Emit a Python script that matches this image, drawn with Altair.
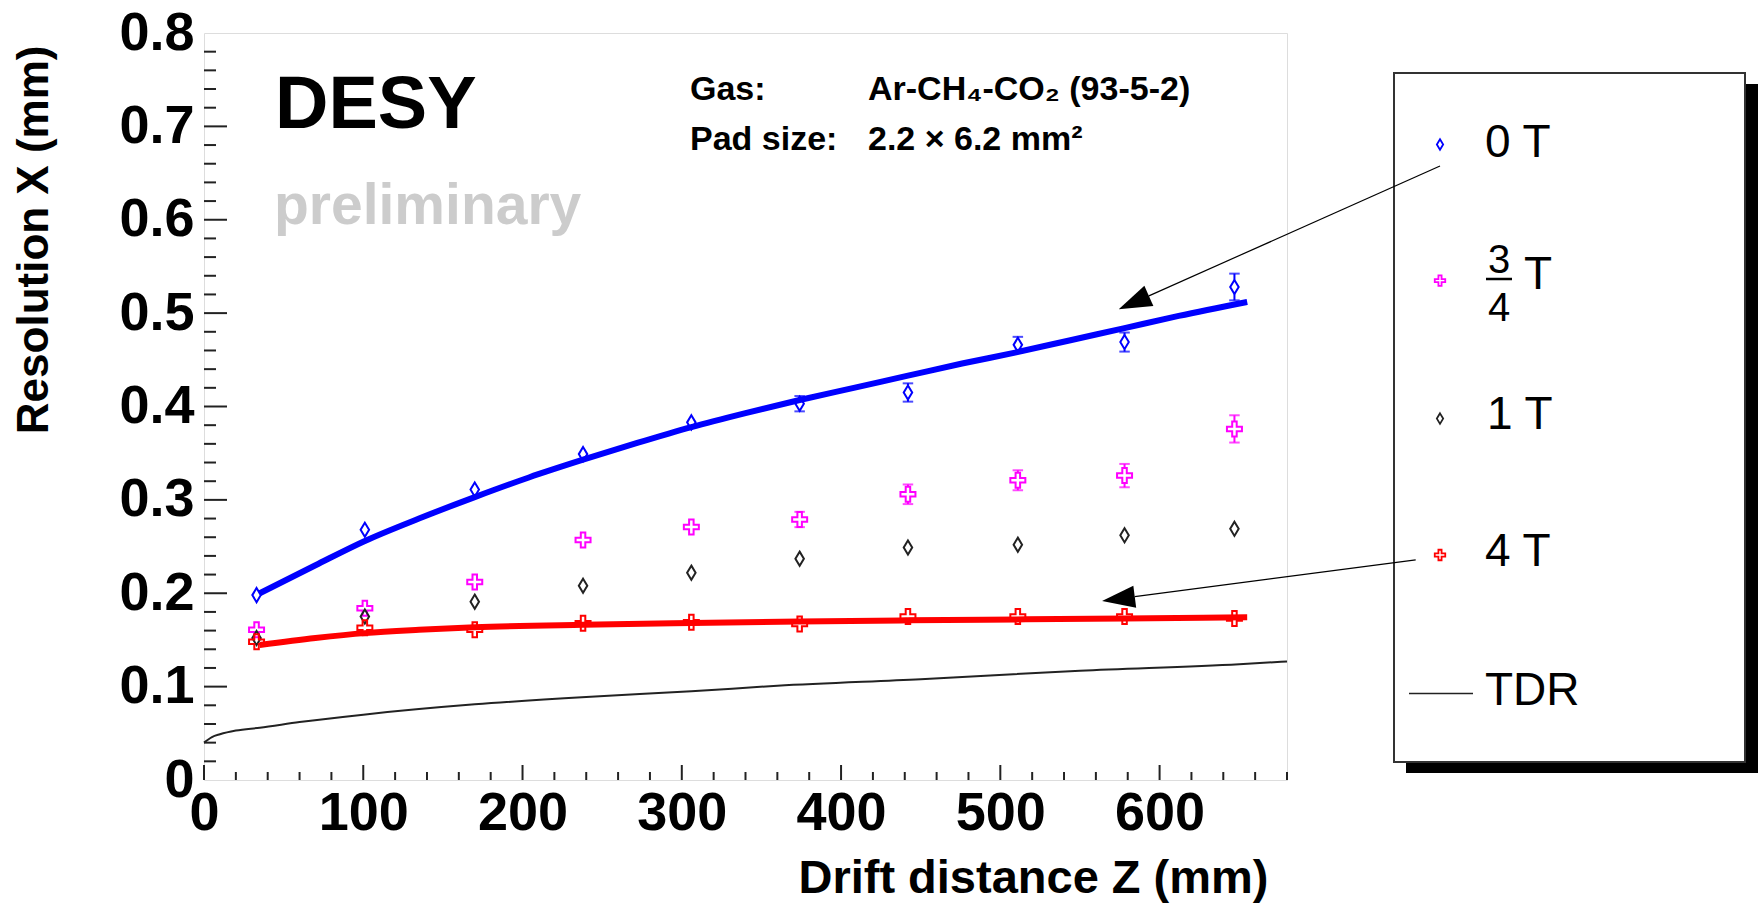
import altair as alt
import pandas as pd

FONT = "Liberation Sans, Arial, Helvetica, sans-serif"

# ---------------- data ----------------
drift = [33, 101, 170, 238, 306, 374, 442, 511, 578, 647]
res_0T = [0.198, 0.268, 0.311, 0.349, 0.383, 0.403, 0.415, 0.466, 0.469, 0.528]
err_0T = [0, 0, 0, 0, 0, 0.0082, 0.0098, 0.0086, 0.0102, 0.0143]
res_34T = [0.161, 0.184, 0.212, 0.257, 0.271, 0.279, 0.306, 0.321, 0.326, 0.376]
err_34T = [0, 0, 0, 0, 0, 0.0082, 0.0105, 0.0107, 0.0125, 0.0146]
res_1T = [0.152, 0.175, 0.191, 0.208, 0.222, 0.237, 0.249, 0.252, 0.262, 0.269]
res_4T = [0.148, 0.163, 0.161, 0.168, 0.169, 0.167, 0.175, 0.175, 0.175, 0.173]

fit0_z = [35, 70, 101, 135, 170, 204, 238, 272, 306, 340, 374, 408, 442, 476, 510, 544, 578, 612, 655]
fit0_res = [0.200, 0.230, 0.256, 0.280, 0.303, 0.324, 0.343, 0.361, 0.378, 0.393, 0.407,
            0.420, 0.433, 0.446, 0.458, 0.471, 0.484, 0.497, 0.512]
fit4_z = [35, 70, 101, 135, 170, 238, 306, 374, 442, 510, 578, 655]
fit4_res = [0.1446, 0.152, 0.1573, 0.1608, 0.1635, 0.1663, 0.1682, 0.1698, 0.171, 0.172, 0.173, 0.1742]
tdr_z = [0, 5, 10, 20, 35, 60, 100, 170, 240, 306, 360, 450, 550, 650, 680]
tdr_res = [0.040, 0.046, 0.049, 0.053, 0.056, 0.062, 0.070, 0.081, 0.089, 0.095, 0.101,
           0.108, 0.117, 0.124, 0.127]

x_major = [0, 100, 200, 300, 400, 500, 600]
x_minor = [20, 40, 60, 80, 120, 140, 160, 180, 220, 240, 260, 280, 320, 340, 360, 380,
           420, 440, 460, 480, 520, 540, 560, 580, 620, 640, 660, 680]
y_major = [0.1, 0.2, 0.3, 0.4, 0.5, 0.6, 0.7]
y_minor = [0.02, 0.04, 0.06, 0.08, 0.12, 0.14, 0.16, 0.18, 0.22, 0.24, 0.26, 0.28,
           0.32, 0.34, 0.36, 0.38, 0.42, 0.44, 0.46, 0.48, 0.52, 0.54, 0.56, 0.58,
           0.62, 0.64, 0.66, 0.68, 0.72, 0.74, 0.76, 0.78]

series_names = ["0 T", "3/4 T", "1 T", "4 T"]
x_title = "Drift distance Z (mm)"
y_title = "Resolution X (mm)"

# ---------------- tables ----------------
def series_df(name, vals, errs):
    return pd.DataFrame({"z": drift, "res": vals, "err": errs, "series": name})

pts = pd.concat([
    series_df(series_names[0], res_0T, err_0T),
    series_df(series_names[1], res_34T, err_34T),
    series_df(series_names[2], res_1T, [0] * len(drift)),
    series_df(series_names[3], res_4T, [0] * len(drift)),
], ignore_index=True)

fit0 = pd.DataFrame({"z": fit0_z, "res": fit0_res})
fit4 = pd.DataFrame({"z": fit4_z, "res": fit4_res})
tdr = pd.DataFrame({"z": tdr_z, "res": tdr_res})

# ---------------- scales / axes ----------------
xs = alt.Scale(domain=[0, 680], nice=False, zero=False)
ys = alt.Scale(domain=[0, 0.8], nice=False, zero=False)

xaxis = alt.Axis(
    values=x_major, format="d", grid=False, domain=False, ticks=False, tickSize=0,
    labelFont=FONT, labelFontSize=54, labelFontWeight="bold", labelColor="black",
    labelPadding=6, labelFlush=False, labelOverlap=False, labelBound=False,
    title=x_title, titleFont=FONT, titleFontSize=47, titleFontWeight="bold",
    titleColor="black", titleAlign="right", titleBaseline="alphabetic",
    titleX=1064, titleY=112, titleAngle=0,
)
yaxis = alt.Axis(
    values=[0, 0.1, 0.2, 0.3, 0.4, 0.5, 0.6, 0.7, 0.8], format=".1~f", grid=False,
    domain=False, ticks=False, tickSize=0,
    labelFont=FONT, labelFontSize=54, labelFontWeight="bold", labelColor="black",
    labelPadding=10, labelFlush=False, labelOverlap=False, labelBound=False,
    title=y_title, titleFont=FONT, titleFontSize=44, titleFontWeight="bold",
    titleColor="black", titleAngle=270, titleAlign="right", titleBaseline="middle",
    titleX=-170, titleY=12,
)

def X(f):
    return alt.X(f"{f}:Q", scale=xs, axis=xaxis)

def Y(f):
    return alt.Y(f"{f}:Q", scale=ys, axis=yaxis)

DIAMOND = "M0,-1L0.6,0L0,1L-0.6,0Z"
CROSS = ("M-0.3,-1L0.3,-1L0.3,-0.3L1,-0.3L1,0.3L0.3,0.3L0.3,1L-0.3,1L-0.3,0.3"
         "L-1,0.3L-1,-0.3L-0.3,-0.3Z")
ARROW = "M1,0L-1,-0.67L-1,0.67Z"
HALF = 0.0078  # marker half height in data units

layers = []

# inner ticks
layers.append(alt.Chart(pd.DataFrame({"z": x_major})).mark_rule(color="#222", strokeWidth=2)
              .encode(x=X("z"), y=alt.value(747), y2=alt.value(732)))
layers.append(alt.Chart(pd.DataFrame({"z": x_minor})).mark_rule(color="#222", strokeWidth=2)
              .encode(x=X("z"), y=alt.value(747), y2=alt.value(739)))
layers.append(alt.Chart(pd.DataFrame({"res": y_major})).mark_rule(color="#222", strokeWidth=2)
              .encode(y=Y("res"), x=alt.value(0), x2=alt.value(23)))
layers.append(alt.Chart(pd.DataFrame({"res": y_minor})).mark_rule(color="#222", strokeWidth=2)
              .encode(y=Y("res"), x=alt.value(0), x2=alt.value(12)))

# TDR curve and fits
layers.append(alt.Chart(tdr).mark_line(color="#222", strokeWidth=2, interpolate="monotone")
              .encode(x=X("z"), y=Y("res")))
layers.append(alt.Chart(fit0).mark_line(color="#0000ff", strokeWidth=6, interpolate="monotone")
              .encode(x=X("z"), y=Y("res")))
layers.append(alt.Chart(fit4).mark_line(color="#ff0000", strokeWidth=6, interpolate="monotone")
              .encode(x=X("z"), y=Y("res")))

styles = {
    "0 T": ("#0000ff", DIAMOND, 200),
    "3/4 T": ("#ff00ff", CROSS, 225),
    "1 T": ("#222222", DIAMOND, 200),
    "4 T": ("#ff0000", CROSS, 225),
}

for name, (col, shp, sz) in styles.items():
    base = alt.Chart(pts).transform_filter(alt.datum.series == name)
    eb = base.transform_filter(alt.datum.err > 0).transform_calculate(
        up1=alt.datum.res + HALF, up2=alt.datum.res + alt.datum.err,
        lo1=alt.datum.res - HALF, lo2=alt.datum.res - alt.datum.err)
    layers.append(eb.mark_rule(color=col, strokeWidth=2)
                  .encode(x=X("z"), y=Y("up1"), y2="up2:Q"))
    layers.append(eb.mark_rule(color=col, strokeWidth=2)
                  .encode(x=X("z"), y=Y("lo1"), y2="lo2:Q"))
    layers.append(eb.mark_point(shape="stroke", size=110, color=col, strokeWidth=2, filled=False)
                  .encode(x=X("z"), y=Y("up2")))
    layers.append(eb.mark_point(shape="stroke", size=110, color=col, strokeWidth=2, filled=False)
                  .encode(x=X("z"), y=Y("lo2")))
    layers.append(base.mark_point(shape=shp, size=sz, color=col, strokeWidth=2,
                                  filled=False, opacity=1)
                  .encode(x=X("z"), y=Y("res")))

# ---------------- annotations (pixel positions relative to plot origin) ----------------
def txt(t, x, y, size, weight="bold", color="black", align="left"):
    return (alt.Chart(pd.DataFrame({"t": [t]}))
            .mark_text(align=align, baseline="alphabetic", font=FONT, fontSize=size,
                       fontWeight=weight, color=color)
            .encode(x=alt.value(x), y=alt.value(y), text="t:N"))

layers.append(txt("DESY", 71, 95, 74))
layers.append(txt("preliminary", 70, 191, 57, color="#cccccc"))
layers.append(txt("Gas:", 486, 67, 34))
layers.append(txt("Ar-CH₄-CO₂ (93-5-2)", 664, 67, 34))
layers.append(txt("Pad size:", 486, 117, 34))
layers.append(txt("2.2 × 6.2 mm²", 664, 117, 34))

# legend box with shadow
one = pd.DataFrame({"k": [0]})
layers.append(alt.Chart(one).mark_rect(color="black")
              .encode(x=alt.value(1202), x2=alt.value(1554), y=alt.value(51), y2=alt.value(740)))
layers.append(alt.Chart(one).mark_rect(fill="white", stroke="#333", strokeWidth=2)
              .encode(x=alt.value(1190), x2=alt.value(1541), y=alt.value(40), y2=alt.value(729)))

leg_y = {"0 T": 111.5, "3/4 T": 247.6, "1 T": 385.6, "4 T": 522}
for name, (col, shp, sz) in styles.items():
    layers.append(alt.Chart(one).mark_point(shape=shp, size=110, color=col, strokeWidth=1.8,
                                            filled=False, opacity=1)
                  .encode(x=alt.value(1236), y=alt.value(leg_y[name])))

layers.append(txt("0 T", 1281, 124, 46, weight="normal"))
layers.append(txt("3", 1295, 240, 40, weight="normal", align="center"))
layers.append(txt("4", 1295, 288, 40, weight="normal", align="center"))
layers.append(alt.Chart(one).mark_rule(color="black", strokeWidth=2.5)
              .encode(x=alt.value(1282), x2=alt.value(1308), y=alt.value(246)))
layers.append(txt("T", 1320, 256, 46, weight="normal"))
layers.append(txt("1 T", 1283, 396, 46, weight="normal"))
layers.append(txt("4 T", 1281, 533, 46, weight="normal"))
layers.append(alt.Chart(one).mark_rule(color="#222", strokeWidth=1.5)
              .encode(x=alt.value(1205), x2=alt.value(1269), y=alt.value(660.6)))
layers.append(txt("TDR", 1281, 672, 46, weight="normal"))

# arrows
layers.append(alt.Chart(one).mark_rule(color="black", strokeWidth=1.2)
              .encode(x=alt.value(1236), y=alt.value(133), x2=alt.value(944.9), y2=alt.value(262.9)))
layers.append(alt.Chart(one).mark_point(shape=ARROW, size=1089, angle=156, color="black",
                                        filled=True, opacity=1)
              .encode(x=alt.value(929.8), y=alt.value(269.6)))
layers.append(alt.Chart(one).mark_rule(color="black", strokeWidth=1.2)
              .encode(x=alt.value(1211.7), y=alt.value(526.8), x2=alt.value(930.7), y2=alt.value(563.7)))
layers.append(alt.Chart(one).mark_point(shape=ARROW, size=1089, angle=172.5, color="black",
                                        filled=True, opacity=1)
              .encode(x=alt.value(914.4), y=alt.value(565.9)))

chart = (alt.layer(*layers)
         .properties(width=1083, height=747,
                     padding={"left": 204, "top": 33, "right": 475, "bottom": 125},
                     autosize=alt.AutoSizeParams(type="none"))
         .configure_view(stroke="#222", strokeWidth=2)
         .configure(background="white"))

chart.save("out.html", embed_options={"renderer": "svg", "actions": False})
